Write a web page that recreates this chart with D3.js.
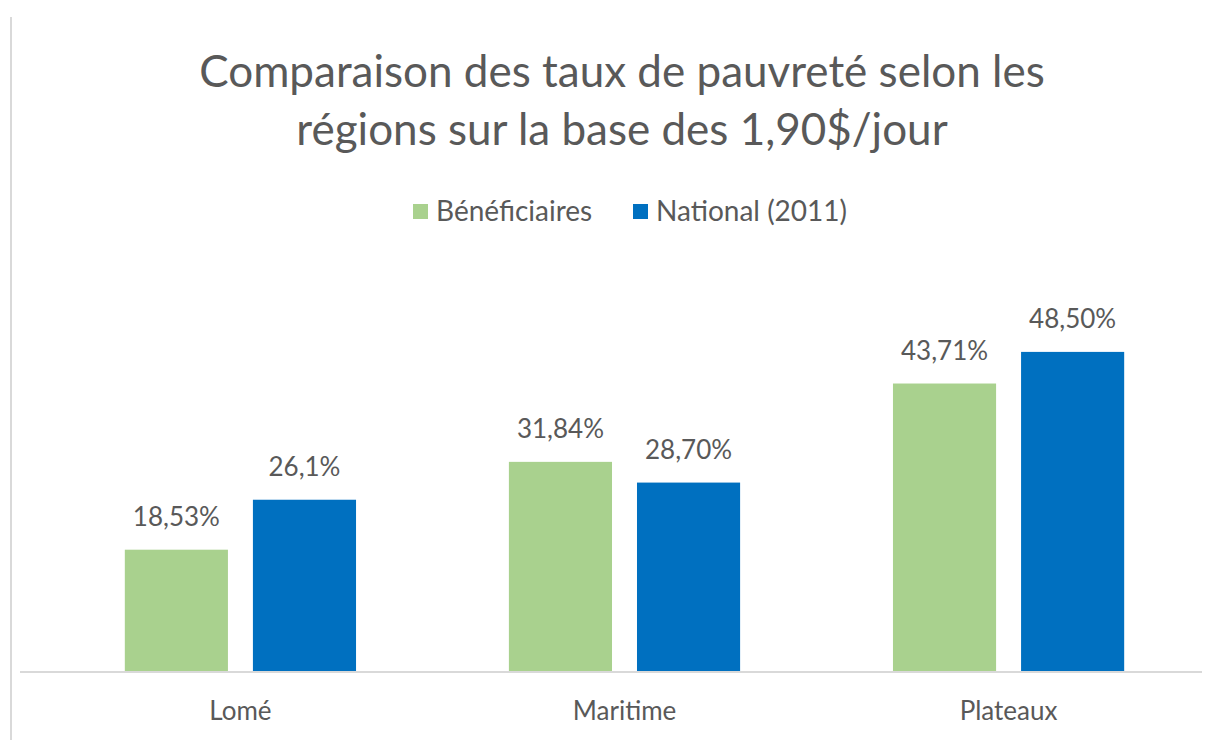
<!DOCTYPE html>
<html>
<head>
<meta charset="utf-8">
<script src="https://cdn.jsdelivr.net/npm/d3@7"></script>
<style>
  body { margin: 0; background: #fff; }
  text { font-family: Lato, "Open Sans", sans-serif; fill: #595959; }
</style>
</head>
<body>
<script>
var regions = ["Lomé", "Maritime", "Plateaux"];
var seriesNames = ["Bénéficiaires", "National (2011)"];
var beneficiaires = [18.53, 31.84, 43.71];
var national = [26.1, 28.7, 48.5];
var labelsBenef = ["18,53%", "31,84%", "43,71%"];
var labelsNational = ["26,1%", "28,70%", "48,50%"];
var colors = ["#A9D18E", "#0070C0"];

var width = 1226, height = 740;
var svg = d3.select("body").append("svg")
    .attr("width", width)
    .attr("height", height);

// left border line
svg.append("line")
    .attr("x1", 11).attr("x2", 11)
    .attr("y1", 17).attr("y2", height)
    .attr("stroke", "#d9d9d9").attr("stroke-width", 2);

// title
var title = svg.append("text")
    .attr("text-anchor", "middle")
    .style("font-size", "44px");
title.append("tspan").attr("x", 622).attr("y", 87).text("Comparaison des taux de pauvreté selon les");
title.append("tspan").attr("x", 622).attr("y", 145).text("régions sur la base des 1,90$/jour");

// legend
var legendX = [413, 633];
var legend = svg.selectAll("g.leg")
    .data(seriesNames)
    .enter().append("g")
    .attr("class", "leg")
    .attr("transform", function (d, i) { return "translate(" + legendX[i] + ",204)"; });
legend.append("rect")
    .attr("width", 15).attr("height", 15)
    .attr("fill", function (d, i) { return colors[i]; });
legend.append("text")
    .attr("x", 23).attr("y", 17)
    .style("font-size", "28px")
    .text(function (d) { return d; });

var x0 = d3.scaleBand()
    .domain(regions)
    .range([48, 1201])
    .paddingInner(0.398)
    .paddingOuter(0.2);

var x1 = d3.scaleBand()
    .domain([0, 1])
    .range([0, x0.bandwidth()])
    .paddingInner(0.195)
    .paddingOuter(0);

var y = d3.scaleLinear()
    .domain([0, 60])
    .range([672, 276]);

var rows = regions.map(function (r, i) {
    return [
        { region: r, s: 0, v: beneficiaires[i], label: labelsBenef[i] },
        { region: r, s: 1, v: national[i], label: labelsNational[i] }
    ];
});

var groups = svg.selectAll("g.grp")
    .data(rows)
    .enter().append("g")
    .attr("class", "grp")
    .attr("transform", function (d, i) { return "translate(" + x0(regions[i]) + ",0)"; });

groups.selectAll("rect")
    .data(function (d) { return d; })
    .enter().append("rect")
    .attr("x", function (d) { return x1(d.s); })
    .attr("width", x1.bandwidth())
    .attr("y", function (d) { return y(d.v); })
    .attr("height", function (d) { return y(0) - y(d.v); })
    .attr("fill", function (d) { return colors[d.s]; });

groups.selectAll("text")
    .data(function (d) { return d; })
    .enter().append("text")
    .attr("text-anchor", "middle")
    .attr("x", function (d) { return x1(d.s) + x1.bandwidth() / 2; })
    .attr("y", function (d) { return y(d.v) - 24; })
    .style("font-size", "26px")
    .text(function (d) { return d.label; });

// x axis
var xAxis = svg.append("g")
    .attr("transform", "translate(0,672)")
    .call(d3.axisBottom(x0).tickSize(0).tickPadding(30));
xAxis.select(".domain").attr("stroke", "#d9d9d9").attr("stroke-width", 2)
    .attr("d", "M20,0H1202");
xAxis.selectAll("text")
    .style("font-size", "26px")
    .style("font-family", "Lato, 'Open Sans', sans-serif")
    .attr("fill", "#595959");
</script>
</body>
</html>
